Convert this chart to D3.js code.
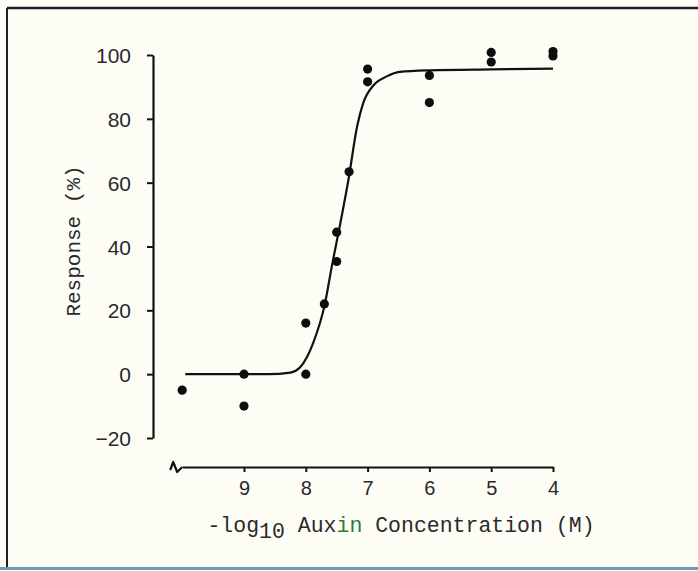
<!DOCTYPE html>
<html>
<head>
<meta charset="utf-8">
<script src="https://cdn.jsdelivr.net/npm/d3@7"></script>
<style>
  body { margin: 0; background: #fdfdf6; }
  svg { display: block; }
</style>
</head>
<body>
<svg id="chart"></svg>
<script>
// measured points (x = -log10 conc, 10 = control at the axis break)
const pointX = [10, 9, 9, 8, 8, 7.7, 7.5, 7.5, 7.3, 7, 7, 6, 6, 5, 5, 4, 4];
const pointY = [-5, 0, -10, 0, 16, 22, 44.5, 35.3, 63.4, 95.6, 91.6, 93.6, 85.1, 100.8, 97.8, 101.1, 99.7];

// fitted curve
const curveX = [9.95, 8.6, 8.25, 8.1, 7.98, 7.88, 7.69, 7.58, 7.44, 7.31, 7.17, 7.07, 6.9, 6.69, 6.48, 6.0, 5.0, 4.0];
const curveY = [0, 0, 0.5, 2, 5.4, 9.8, 22.1, 33.7, 47.4, 60.9, 77.6, 85, 90.6, 93.3, 94.7, 95.2, 95.5, 95.7];

const xTicks = [9, 8, 7, 6, 5, 4];
const yTicks = [100, 80, 60, 40, 20, 0, -20];

const width = 698, height = 571;
const svg = d3.select('#chart').attr('width', width).attr('height', height);

// scanned page frame
svg.append('rect').attr('width', width).attr('height', height).attr('fill', '#fdfdf6');
svg.append('line').attr('x1', 7).attr('x2', width).attr('y1', 8).attr('y2', 8)
  .attr('stroke', '#1a1f26').attr('stroke-width', 2.5);
svg.append('line').attr('x1', 7).attr('x2', 7).attr('y1', 8).attr('y2', 568)
  .attr('stroke', '#1a1f26').attr('stroke-width', 2);
svg.append('line').attr('x1', 0).attr('x2', width).attr('y1', 568.5).attr('y2', 568.5)
  .attr('stroke', '#6f9cb4').attr('stroke-width', 3);

const x = d3.scaleLinear().domain([10, 4]).range([182.2, 553]);
const y = d3.scaleLinear().domain([-20, 100]).range([438, 55]);

const axisX = 153, axisY = 467;
const tickFont = '"Liberation Sans", Arial, sans-serif';
const monoFont = '"Liberation Mono", "DejaVu Sans Mono", monospace';

// y axis
const yAxis = svg.append('g')
  .attr('transform', `translate(${axisX},0)`)
  .call(d3.axisLeft(y).tickValues(yTicks).tickFormat(d3.format('d'))
    .tickSize(6).tickPadding(16).tickSizeOuter(0));
yAxis.select('.domain').attr('stroke', '#111').attr('stroke-width', 2.2);
yAxis.selectAll('.tick line').attr('stroke', '#111').attr('stroke-width', 2);
yAxis.selectAll('.tick text')
  .attr('font-family', tickFont)
  .attr('font-size', 21).attr('fill', '#2a2a2a')
  .attr('dy', '0.36em');

// x axis with break
const xAxis = svg.append('g')
  .attr('transform', `translate(0,${axisY})`)
  .call(d3.axisBottom(x).tickValues(xTicks).tickFormat(d3.format('d'))
    .tickSize(5).tickPadding(9).tickSizeOuter(0));
xAxis.select('.domain').attr('stroke', '#111').attr('stroke-width', 2.2);
xAxis.selectAll('.tick line').attr('stroke', '#111').attr('stroke-width', 2);
xAxis.selectAll('.tick text')
  .attr('font-family', tickFont)
  .attr('font-size', 20).attr('fill', '#2a2a2a');

const bx = x(10);
svg.append('path')
  .attr('d', `M${bx - 12},${axisY + 3} L${bx - 9},${axisY - 5} L${bx - 5},${axisY + 5} L${bx},${axisY}`)
  .attr('fill', 'none').attr('stroke', '#111').attr('stroke-width', 2.2)
  .attr('stroke-linejoin', 'round');

// axis titles
svg.append('text')
  .attr('transform', `translate(80,241) rotate(-90)`)
  .attr('text-anchor', 'middle')
  .attr('font-family', monoFont)
  .attr('font-size', 21).attr('fill', '#2a2a2a')
  .text('Response (%)');

const xt = svg.append('text')
  .attr('x', 401).attr('y', 532)
  .attr('text-anchor', 'middle')
  .attr('font-family', monoFont)
  .attr('font-size', 21.5).attr('fill', '#2a2a2a');
xt.append('tspan').text('-log');
xt.append('tspan').attr('dy', 6).text('10');
xt.append('tspan').attr('dy', -6).text(' Aux');
xt.append('tspan').attr('fill', '#2f7a33').text('in');
xt.append('tspan').text(' Concentration (M)');

// fitted curve
const curve = d3.zip(curveX, curveY);
svg.append('path')
  .datum(curve)
  .attr('d', d3.line().x(d => x(d[0])).y(d => y(d[1])).curve(d3.curveMonotoneX))
  .attr('fill', 'none').attr('stroke', '#111').attr('stroke-width', 2.2);

// data points
svg.selectAll('circle.pt')
  .data(d3.zip(pointX, pointY))
  .enter()
  .append('circle')
  .attr('class', 'pt')
  .attr('cx', d => x(d[0]))
  .attr('cy', d => y(d[1]))
  .attr('r', 4.6)
  .attr('fill', '#0d0d0d');
</script>
</body>
</html>
